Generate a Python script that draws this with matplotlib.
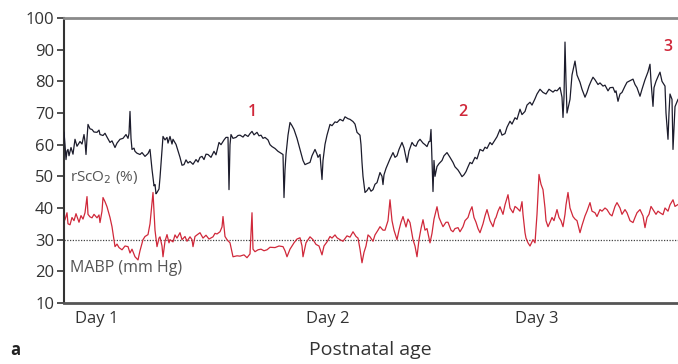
import matplotlib
matplotlib.use("Agg")
import matplotlib.pyplot as plt

# (hours from start, value) pairs
rsco2_pts = [
    (0.0, 63.9), (0.1, 60.0), (0.2, 55.3), (0.3, 58.0), (0.4, 58.5), (0.5, 56.5), (0.7, 59.1),
    (0.9, 57.0), (1.1, 61.7), (1.3, 59.5), (1.4, 60.0), (1.6, 61.0), (1.8, 60.2), (2.0, 63.2),
    (2.1, 61.0), (2.2, 56.9), (2.3, 62.0), (2.4, 66.4), (2.6, 65.0), (2.8, 64.8), (3.0, 64.0),
    (3.3, 63.9), (3.5, 64.6), (3.6, 63.2), (3.9, 62.9), (4.1, 63.6), (4.3, 62.4), (4.6, 60.7),
    (4.8, 61.2), (5.1, 59.1), (5.3, 60.5), (5.6, 61.7), (5.9, 62.0), (6.2, 63.2), (6.4, 62.0),
    (6.5, 63.5), (6.6, 70.5), (6.7, 62.0), (6.8, 58.5), (7.0, 58.9), (7.1, 57.9), (7.3, 57.3),
    (7.6, 56.9), (7.8, 57.5), (8.1, 56.3), (8.4, 57.2), (8.6, 58.5), (8.8, 52.2), (9.0, 47.0),
    (9.1, 47.4), (9.2, 44.5), (9.3, 44.9), (9.5, 46.0), (9.6, 49.6), (9.8, 58.0), (9.9, 62.6),
    (10.1, 61.5), (10.3, 62.3), (10.4, 60.5), (10.6, 62.6), (10.8, 60.2), (10.9, 61.7),
    (11.2, 60.1), (11.4, 58.0), (11.6, 56.0), (11.8, 53.5), (12.0, 53.7), (12.2, 55.2),
    (12.4, 54.2), (12.6, 54.7), (12.9, 53.8), (13.2, 55.3), (13.4, 54.5), (13.6, 56.0),
    (13.8, 56.3), (14.0, 55.3), (14.2, 57.0), (14.4, 56.9), (14.7, 56.0), (15.0, 57.9),
    (15.2, 56.8), (15.4, 59.5), (15.5, 60.7), (15.7, 60.0), (16.0, 61.5), (16.2, 62.3),
    (16.4, 62.3), (16.5, 45.8), (16.6, 60.0), (16.7, 63.2), (16.9, 62.0), (17.2, 62.3),
    (17.4, 62.9), (17.6, 63.0), (17.9, 62.4), (18.1, 63.2), (18.4, 62.6), (18.6, 63.5),
    (18.8, 64.2), (19.0, 63.1), (19.3, 63.9), (19.5, 62.8), (19.7, 63.0), (19.9, 62.0),
    (20.1, 62.3), (20.4, 61.5), (20.6, 60.0), (20.8, 59.4), (21.1, 58.8), (21.4, 57.9),
    (21.6, 57.5), (21.9, 56.9), (22.0, 43.3), (22.1, 52.0), (22.2, 56.9), (22.4, 63.0),
    (22.6, 67.0), (22.8, 66.0), (23.0, 64.8), (23.3, 62.0), (23.6, 58.5), (23.9, 55.0),
    (24.1, 53.7), (24.3, 54.0), (24.6, 54.4), (24.8, 56.5), (25.1, 58.5), (25.3, 57.0),
    (25.4, 56.0), (25.6, 56.9), (25.8, 49.0), (25.9, 55.0), (26.1, 60.1), (26.3, 63.0),
    (26.6, 66.4), (26.8, 66.0), (27.1, 67.2), (27.3, 67.0), (27.6, 68.0), (27.9, 67.5),
    (28.1, 68.8), (28.4, 68.2), (28.6, 68.0), (28.9, 67.3), (29.1, 66.5), (29.3, 63.9),
    (29.6, 63.0), (29.7, 60.0), (29.8, 54.4), (29.9, 50.0), (30.1, 44.9), (30.3, 45.5),
    (30.5, 46.5), (30.7, 45.3), (30.9, 45.8), (31.1, 47.5), (31.3, 48.0), (31.6, 51.2),
    (31.8, 50.0), (31.9, 47.4), (32.0, 50.5), (32.2, 52.5), (32.4, 54.0), (32.6, 55.5),
    (32.9, 57.5), (33.1, 56.0), (33.3, 56.5), (33.5, 58.5), (33.8, 60.7), (34.0, 59.0),
    (34.2, 56.0), (34.3, 54.4), (34.5, 58.0), (34.8, 60.7), (35.0, 59.8), (35.2, 59.5),
    (35.4, 61.0), (35.6, 61.7), (35.9, 60.5), (36.1, 60.0), (36.3, 59.4), (36.5, 61.0),
    (36.6, 61.0), (36.7, 64.8), (36.8, 55.0), (36.9, 45.2), (37.0, 55.0), (37.1, 50.0),
    (37.3, 53.1), (37.5, 54.0), (37.8, 55.0), (38.0, 56.5), (38.3, 57.5), (38.6, 56.0),
    (38.9, 54.4), (39.1, 53.0), (39.4, 52.0), (39.6, 51.0), (39.8, 49.9), (40.0, 50.5),
    (40.2, 51.5), (40.4, 53.0), (40.6, 54.4), (40.8, 54.0), (41.1, 56.0), (41.3, 55.5),
    (41.6, 58.5), (41.9, 58.0), (42.1, 59.2), (42.3, 58.8), (42.6, 60.7), (42.8, 60.0),
    (43.1, 61.5), (43.3, 62.5), (43.6, 64.8), (43.8, 63.0), (44.1, 63.5), (44.3, 65.5),
    (44.6, 67.4), (44.8, 66.5), (45.1, 68.5), (45.3, 68.0), (45.6, 71.2), (45.8, 69.5),
    (46.1, 70.5), (46.3, 72.5), (46.6, 73.4), (46.8, 72.5), (47.1, 74.5), (47.3, 76.0),
    (47.6, 77.5), (47.9, 76.5), (48.2, 76.0), (48.5, 77.5), (48.9, 76.6), (49.1, 77.2),
    (49.3, 77.0), (49.6, 78.1), (49.8, 75.0), (49.9, 68.6), (50.0, 75.0), (50.1, 92.4),
    (50.2, 80.0), (50.3, 70.0), (50.6, 74.3), (50.8, 82.0), (51.0, 85.0), (51.1, 86.4),
    (51.3, 82.0), (51.6, 79.7), (51.8, 77.5), (52.1, 75.0), (52.3, 76.5), (52.5, 78.5),
    (52.7, 80.0), (52.9, 81.3), (53.1, 80.5), (53.4, 79.0), (53.6, 79.5), (53.9, 78.5),
    (54.1, 78.8), (54.4, 77.0), (54.6, 78.0), (54.9, 78.1), (55.1, 76.5), (55.2, 77.0),
    (55.4, 73.7), (55.6, 76.0), (55.8, 76.5), (56.1, 78.5), (56.3, 79.7), (56.6, 80.2),
    (56.9, 80.7), (57.1, 79.0), (57.3, 78.0), (57.6, 75.3), (57.8, 77.5), (58.1, 80.5),
    (58.4, 83.0), (58.6, 85.4), (58.7, 80.0), (58.9, 72.1), (59.0, 78.0), (59.2, 80.0),
    (59.4, 81.5), (59.6, 82.9), (59.8, 80.0), (60.1, 78.5), (60.2, 70.0), (60.4, 61.7),
    (60.5, 70.0), (60.6, 76.0), (60.8, 74.3), (60.9, 58.5), (61.0, 65.0), (61.1, 72.0),
    (61.4, 74.3),
]

mabp_pts = [
    (0.1, 36.3), (0.3, 38.5), (0.4, 35.0), (0.6, 34.7), (0.8, 37.0), (1.0, 36.0), (1.2, 38.2),
    (1.3, 37.3), (1.5, 35.5), (1.7, 37.6), (1.9, 36.5), (2.1, 38.5), (2.3, 43.6), (2.4, 38.0),
    (2.6, 37.2), (2.8, 36.9), (3.0, 38.0), (3.3, 36.9), (3.5, 37.8), (3.6, 35.4), (3.8, 39.0),
    (3.9, 43.3), (4.1, 42.0), (4.3, 40.4), (4.6, 37.0), (4.8, 34.1), (5.1, 27.8), (5.3, 28.6),
    (5.5, 27.5), (5.8, 26.8), (6.1, 28.0), (6.4, 27.8), (6.6, 25.8), (6.8, 27.0), (7.1, 24.6),
    (7.4, 23.6), (7.6, 26.5), (7.9, 30.0), (8.1, 31.0), (8.4, 31.6), (8.6, 35.0), (8.9, 44.9),
    (9.1, 33.0), (9.3, 27.8), (9.5, 30.5), (9.6, 30.9), (9.8, 28.0), (9.9, 24.6), (10.1, 29.5),
    (10.3, 31.6), (10.5, 29.0), (10.6, 30.0), (10.9, 29.3), (11.1, 31.5), (11.3, 30.5),
    (11.6, 32.2), (11.8, 30.0), (12.1, 31.0), (12.3, 29.5), (12.6, 30.9), (12.8, 30.0),
    (12.9, 27.8), (13.1, 31.0), (13.3, 31.5), (13.6, 32.2), (13.9, 30.5), (14.2, 31.4),
    (14.5, 30.2), (14.9, 30.9), (15.1, 32.0), (15.3, 31.8), (15.6, 32.5), (15.8, 34.0),
    (15.9, 37.3), (16.1, 31.0), (16.3, 30.0), (16.6, 29.0), (16.9, 24.6), (17.3, 24.9),
    (17.6, 24.8), (18.0, 25.2), (18.3, 24.3), (18.6, 25.5), (18.8, 38.5), (18.9, 27.0),
    (19.1, 26.2), (19.4, 26.8), (19.7, 27.0), (20.0, 26.5), (20.3, 26.8), (20.6, 27.6),
    (21.1, 27.5), (21.5, 28.0), (21.9, 27.8), (22.1, 26.5), (22.3, 24.6), (22.6, 27.0),
    (23.0, 29.0), (23.3, 30.2), (23.6, 30.6), (23.8, 28.0), (23.9, 24.6), (24.2, 29.0),
    (24.6, 30.9), (24.9, 30.0), (25.2, 28.5), (25.5, 28.0), (25.8, 25.2), (26.0, 28.0),
    (26.3, 29.3), (26.6, 31.0), (26.8, 30.5), (27.1, 31.5), (27.3, 30.6), (27.6, 30.0),
    (27.9, 29.5), (28.3, 31.2), (28.6, 30.8), (28.9, 32.5), (29.2, 31.0), (29.4, 30.5),
    (29.6, 27.0), (29.8, 22.7), (30.0, 26.0), (30.2, 28.0), (30.4, 31.5), (30.6, 30.9),
    (30.9, 29.5), (31.1, 31.5), (31.4, 33.0), (31.6, 34.1), (31.9, 33.0), (32.1, 33.0),
    (32.4, 36.0), (32.6, 42.6), (32.8, 36.0), (33.0, 33.0), (33.3, 30.0), (33.5, 33.0),
    (33.7, 35.5), (33.9, 37.3), (34.2, 34.0), (34.4, 36.5), (34.6, 35.4), (34.9, 30.0),
    (35.1, 28.0), (35.3, 24.6), (35.5, 30.0), (35.7, 33.5), (35.9, 36.3), (36.1, 33.0),
    (36.3, 33.5), (36.6, 29.0), (36.8, 32.0), (37.0, 36.5), (37.3, 40.4), (37.5, 37.0),
    (37.7, 35.5), (37.9, 34.1), (38.2, 35.5), (38.4, 35.5), (38.7, 33.0), (38.9, 32.5),
    (39.1, 33.5), (39.4, 33.8), (39.6, 32.5), (39.9, 34.1), (40.1, 36.0), (40.4, 37.0),
    (40.6, 39.0), (40.8, 40.4), (41.0, 37.0), (41.2, 35.5), (41.4, 33.5), (41.6, 32.2),
    (41.9, 35.0), (42.1, 37.5), (42.3, 39.5), (42.6, 36.0), (42.9, 34.1), (43.1, 36.5),
    (43.2, 37.0), (43.4, 39.0), (43.6, 40.4), (43.9, 38.0), (44.1, 41.0), (44.4, 44.2),
    (44.6, 40.0), (44.9, 38.5), (45.1, 40.5), (45.3, 40.0), (45.6, 39.0), (45.8, 42.0),
    (45.9, 38.0), (46.1, 32.2), (46.2, 30.5), (46.4, 29.0), (46.6, 28.0), (46.9, 30.0),
    (47.1, 29.0), (47.3, 38.0), (47.5, 50.6), (47.7, 47.5), (47.9, 45.8), (48.1, 40.0),
    (48.2, 36.0), (48.4, 34.1), (48.6, 35.5), (48.8, 37.0), (49.0, 36.0), (49.3, 39.5),
    (49.5, 37.0), (49.7, 36.0), (49.9, 34.1), (50.1, 38.0), (50.2, 41.0), (50.4, 44.9),
    (50.6, 40.0), (50.9, 37.3), (51.1, 36.5), (51.3, 36.0), (51.6, 32.2), (51.8, 34.5),
    (52.1, 37.5), (52.3, 39.0), (52.6, 41.7), (52.8, 39.0), (53.1, 38.5), (53.3, 37.3),
    (53.6, 39.5), (53.8, 39.0), (54.1, 40.0), (54.3, 39.5), (54.6, 38.0), (54.8, 37.5),
    (55.1, 40.5), (55.3, 41.7), (55.6, 40.0), (55.8, 38.0), (56.1, 39.5), (56.3, 38.5),
    (56.6, 36.0), (56.9, 35.4), (57.1, 37.0), (57.3, 38.5), (57.6, 39.5), (57.9, 37.5),
    (58.1, 33.8), (58.3, 37.0), (58.5, 38.0), (58.7, 40.5), (58.9, 39.5), (59.2, 38.0),
    (59.4, 39.0), (59.6, 38.5), (59.9, 37.9), (60.1, 40.0), (60.4, 39.0), (60.6, 41.0),
    (60.9, 42.6), (61.1, 40.5), (61.4, 41.1),
]

day_ticks = [3.3, 26.4, 47.3]
day_labels = ["Day 1", "Day 2", "Day 3"]
events = ["1", "2", "3"]
event_t = [18.8, 39.9, 60.4]
event_v = [70.2, 70.2, 90.8]

plt.rcParams["font.family"] = ["Open Sans", "DejaVu Sans"]

fig = plt.figure(figsize=(6.78, 3.64), dpi=100)
ax = fig.add_axes([0.0944, 0.1676, 0.9056, 0.7829])

rs_t, rs_v = zip(*rsco2_pts)
bp_t, bp_v = zip(*mabp_pts)

ax.axhline(30, color="#444444", lw=0.9, ls=(0, (1, 1.2)), zorder=1)
ax.plot(bp_t, bp_v, color="#d0283a", lw=0.9, zorder=2)
ax.plot(rs_t, rs_v, color="#1c1c2c", lw=0.9, zorder=3)

for lab, t, v in zip(events, event_t, event_v):
    ax.text(t, v, lab, color="#d0283a", fontsize=11.5, fontweight="semibold",
            ha="center", va="center")

ax.text(0.6, 49.6, "rScO$_2$ (%)", color="#555555", fontsize=11, va="center")
ax.text(0.6, 21.0, "MABP (mm Hg)", color="#555555", fontsize=11.5, va="center")

ax.set_xlim(0, 61.4)
ax.set_ylim(10, 100)
ax.set_yticks(range(10, 101, 10))
ax.set_xticks(day_ticks)
ax.set_xticklabels(day_labels)
ax.tick_params(axis="y", length=5, width=1.2, color="#333333", labelcolor="#333333",
               labelsize=12, pad=2)
ax.tick_params(axis="x", length=0, labelcolor="#333333", labelsize=12, pad=6)

ax.spines["right"].set_visible(False)
ax.spines["top"].set_color("#8a8a8a")
ax.spines["top"].set_linewidth(2)
ax.spines["bottom"].set_color("#555555")
ax.spines["bottom"].set_linewidth(2)
ax.spines["left"].set_color("#333333")
ax.spines["left"].set_linewidth(1.5)

fig.text(0.546, 0.038, "Postnatal age", ha="center", va="center", fontsize=14, color="#333333")
fig.text(0.022, 0.038, "a", ha="center", va="center", fontsize=12, fontweight="bold", color="#222222")

fig.savefig("out.png", dpi=100)
